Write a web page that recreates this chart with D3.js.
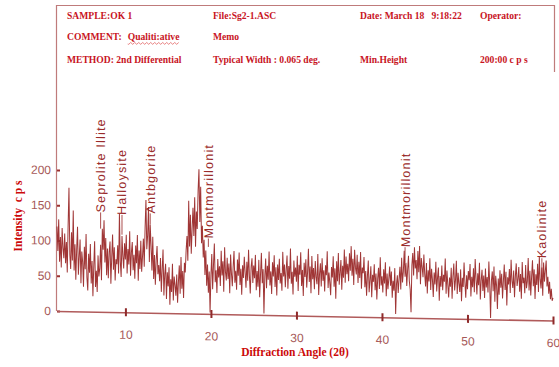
<!DOCTYPE html>
<html>
<head>
<meta charset="utf-8">
<script src="https://cdn.jsdelivr.net/npm/d3@7"></script>
<style>
  body { margin: 0; background: #fff; }
  svg { display: block; }
  .hdr { font-family: "Liberation Serif", serif; font-weight: bold; font-size: 9.6px; fill: #c8141e; white-space: pre; }
  .tick text { font-family: "Liberation Sans", Arial, sans-serif; font-size: 12px; fill: #a65858; }
  .peak { font-family: "Liberation Sans", Arial, sans-serif; font-size: 12.5px; fill: #9a2b2b; letter-spacing: 1.2px; }
  .title { font-family: "Liberation Serif", serif; font-weight: bold; fill: #cc0a0a; white-space: pre; }
</style>
</head>
<body>
<svg id="chart" width="559" height="367"></svg>
<script>
// header of the instrument printout
const headerRow1 = ["SAMPLE:OK 1", "File:Sg2-1.ASC", "Date: March 18   9:18:22", "Operator:"]
const headerRow2 = ["COMMENT:", "Memo"]
const commentWord = "Qualiti:ative"
const headerRow3 = ["METHOD: 2nd Differential", "Typical Width : 0.065 deg.", "Min.Height", "200:00 c p s"]

// scan: 2θ from 2 to 60 deg, one reading every 0.1 deg (counts per second)
const angleStart = 2
const angleStep = 0.1
const intensity = [
  120, 85, 130, 70, 105, 62, 118, 90, 75, 110,
  68, 98, 55, 122, 175, 80, 60, 112, 72, 143,
  58, 95, 45, 88, 120, 52, 78, 102, 40, 85,
  70, 35, 92, 60, 110, 48, 30, 82, 55, 96,
  40, 72, 22, 65, 100, 35, 58, 28, 80, 50,
  62, 95, 45, 118, 88, 130, 70, 105, 52, 90,
  48, 85, 100, 40, 78, 110, 60, 92, 45, 75,
  68, 95, 55, 140, 72, 50, 108, 80, 62, 98,
  75, 110, 55, 90, 68, 115, 52, 85, 100, 60,
  82, 48, 95, 70, 110, 45, 88, 62, 102, 58,
  80, 105, 65, 120, 160, 90, 110, 150, 72, 125,
  95, 60, 108, 48, 82, 40, 75, 95, 55, 68,
  45, 78, 30, 62, 90, 25, 55, 70, 20, 58,
  38, 65, 12, 48, 30, 70, 18, 52, 40, 25,
  55, 15, 45, 68, 28, 80, 35, 60, 22, 72,
  58, 90, 110, 75, 160, 95, 140, 85, 120, 150,
  110, 165, 95, 145, 120, 175, 205, 130, 180, 100,
  125, 80, 105, 55, 90, 40, 70, 30, 60, 2,
  55, 85, 35, 70, 100, 45, 62, 30, 78, 52,
  68, 40, 90, 55, 75, 32, 95, 60, 48, 80,
  50, 72, 30, 85, 58, 40, 68, 90, 45, 62,
  35, 78, 55, 88, 42, 65, 28, 70, 52, 82,
  60, 38, 75, 48, 92, 55, 30, 68, 80, 45,
  70, 52, 85, 35, 62, 40, 78, 25, 58, 88,
  45, 65, 2, 55, 80, 38, 70, 50, 90, 42,
  62, 30, 75, 55, 85, 40, 68, 28, 72, 50,
  80, 45, 60, 35, 90, 55, 72, 40, 65, 85,
  38, 70, 52, 95, 45, 62, 30, 78, 55, 68,
  48, 85, 35, 72, 58, 90, 42, 65, 28, 75,
  55, 80, 40, 62, 95, 48, 70, 32, 85, 52,
  68, 38, 78, 55, 45, 88, 30, 60, 75, 42,
  82, 50, 65, 35, 72, 58, 92, 40, 62, 48,
  30, 70, 55, 85, 42, 68, 25, 78, 50, 90,
  45, 62, 80, 38, 72, 55, 95, 48, 85, 60,
  75, 50, 90, 65, 100, 58, 82, 45, 95, 70,
  60, 88, 48, 78, 55, 92, 40, 70, 62, 85,
  42, 65, 30, 58, 80, 35, 52, 72, 28, 60,
  50, 75, 38, 62, 25, 55, 70, 40, 85, 45,
  58, 35, 68, 48, 78, 30, 62, 40, 55, 72,
  45, 65, 28, 52, 38, 70, 5, 48, 60, 35,
  55, 72, 40, 85, 50, 65, 95, 58, 78, 45,
  68, 88, 52, 40, 8, 75, 92, 60, 100, 70,
  82, 55, 95, 65, 102, 48, 85, 72, 58, 90,
  62, 45, 78, 35, 68, 52, 85, 40, 70, 55,
  30, 65, 48, 80, 38, 58, 72, 25, 60, 45,
  75, 40, 62, 52, 85, 35, 68, 48, 30, 58,
  45, 72, 28, 60, 78, 40, 55, 82, 35, 65,
  50, 38, 70, 25, 58, 45, 80, 52, 30, 62,
  42, 68, 55, 78, 32, 60, 45, 72, 38, 85,
  58, 35, 65, 48, 80, 28, 55, 70, 40, 62,
  30, 72, 45, 60, 38, 82, 50, 2, 55, 68,
  40, 75, 25, 62, 48, 15, 58, 35, 70, 45,
  65, 30, 55, 78, 42, 68, 20, 60, 50, 72,
  38, 85, 55, 45, 70, 32, 62, 80, 48, 58,
  75, 40, 65, 30, 82, 52, 60, 38, 78, 45,
  55, 88, 42, 70, 35, 62, 85, 48, 72, 30,
  65, 50, 80, 40, 90, 58, 45, 75, 35, 82,
  55, 70, 85, 48, 62, 38, 55, 30, 45, 28,
  32
]

// identified phases: label angle and the intensity where the label starts
const peakNames = ["Seprolite Illite", "Halloysite", "Antbgorite", "Montmorillonit", "Montmorillonit", "Kaolinite"]
const peakAngles = [7.1, 9.6, 12.9, 19.7, 42.7, 58.7]
const peakHeights = [141, 138, 141, 107, 100, 88]
const peakFoot = [118, 110, 125, 95, 78, 62]

const xTicks = [10, 20, 30, 40, 50, 60]
const yTicks = [0, 50, 100, 150, 200]

const svg = d3.select("#chart")
const red = "#962020"

// header box
svg.append("path")
  .attr("d", "M56.5,311 V5.5 H554.5 V72")
  .attr("fill", "none")
  .attr("stroke", "#bf7b7b")
  .attr("stroke-width", 1.2)

var colX = [67, 213, 360, 480]
var rows = [headerRow1, headerRow2, headerRow3]
var rowY = [19, 40, 63]
rows.forEach(function(row, r) {
  svg.selectAll(".hdr" + r)
    .data(row)
    .enter()
    .append("text")
    .attr("class", "hdr hdr" + r)
    .attr("x", (d, i) => colX[i])
    .attr("y", rowY[r])
    .text(d => d)
})
// "Memo" sits in the second column, the comment word follows "COMMENT:"
var hdr1 = svg.selectAll(".hdr1").attr("x", (d, i) => i == 0 ? colX[0] : colX[1])
var commentX = colX[0] + hdr1.nodes()[0].getComputedTextLength() + 6
var cw = svg.append("text")
  .attr("class", "hdr")
  .attr("x", commentX)
  .attr("y", rowY[1])
  .text(commentWord)
var cwLen = cw.node().getComputedTextLength()
var wave = "M" + commentX + "," + (rowY[1] + 4)
for (let k = 0; k < cwLen; k += 2) {
  wave += " L" + (commentX + k + 1) + "," + (rowY[1] + 2.5 + (k / 2 % 2 ? 0 : 1.8))
}
svg.append("path").attr("d", wave).attr("fill", "none").attr("stroke", "#d83030").attr("stroke-width", 0.6)

// scales
var x = d3.scaleLinear().domain([2, 60]).range([57, 553])
var y = d3.scaleLinear().domain([0, 200]).range([311, 170])

// the printout is slightly skewed: baseline drops towards the right
var plot = svg.append("g")
  .attr("transform", "translate(57,311) skewY(1.1) translate(-57,-311)")

plot.append("path")
  .datum(intensity)
  .attr("fill", "none")
  .attr("stroke", red)
  .attr("stroke-width", 1)
  .attr("stroke-opacity", 0.9)
  .attr("d", d3.line()
    .x((d, i) => x(angleStart + i * angleStep))
    .y(d => y(d)))

// y axis
var yAxis = plot.append("g")
  .attr("transform", "translate(57,0)")
  .call(d3.axisLeft(y).tickValues(yTicks).tickSizeInner(-3).tickSizeOuter(0).tickPadding(6))
yAxis.select(".domain").remove()
yAxis.selectAll(".tick line").attr("stroke", "#9a3030").attr("stroke-width", 2)

// x axis
var xAxis = plot.append("g")
  .attr("transform", "translate(0,311)")
  .call(d3.axisBottom(x).tickValues(xTicks).tickSizeInner(4).tickSizeOuter(0).tickPadding(14))
xAxis.select(".domain").attr("stroke", "#b05a5a").attr("stroke-width", 1.6)
xAxis.selectAll(".tick line").attr("y1", -4).attr("stroke", "#8f2a2a").attr("stroke-width", 2)

// phase labels
plot.selectAll(".peakline")
  .data(peakNames)
  .enter()
  .append("line")
  .attr("class", "peakline")
  .attr("x1", (d, i) => x(peakAngles[i]))
  .attr("x2", (d, i) => x(peakAngles[i]))
  .attr("y1", (d, i) => y(peakHeights[i]))
  .attr("y2", (d, i) => y(peakFoot[i]))
  .attr("stroke", red)
  .attr("stroke-width", 0.8)

plot.selectAll(".peak")
  .data(peakNames)
  .enter()
  .append("text")
  .attr("class", "peak")
  .attr("transform", (d, i) => "translate(" + (x(peakAngles[i]) + 4.5) + "," + y(peakHeights[i]) + ")rotate(-90)")
  .text(d => d)

// axis titles
svg.append("text")
  .attr("class", "title")
  .attr("font-size", 11.5)
  .attr("text-anchor", "middle")
  .attr("transform", "translate(22,216)rotate(-90)")
  .text("Intensity  c p s")

svg.append("text")
  .attr("class", "title")
  .attr("font-size", 11.5)
  .attr("text-anchor", "middle")
  .attr("x", 295)
  .attr("y", 356)
  .text("Diffraction Angle (2θ)")
</script>
</body>
</html>
